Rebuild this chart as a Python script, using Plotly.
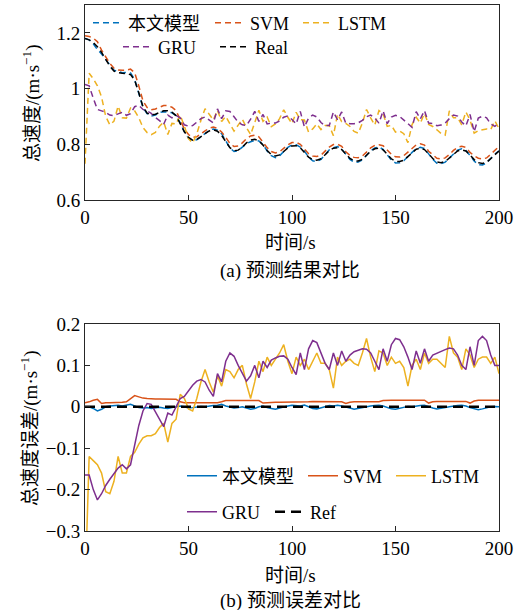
import plotly.graph_objects as go

# ---------------- data ----------------
time_s = list(range(0, 201, 2))

real_speed = [
    1.180, 1.175, 1.165, 1.150, 1.130, 1.105, 1.080, 1.063, 1.057, 1.055,
    1.054, 1.050, 1.030, 0.985, 0.935, 0.912, 0.905, 0.908, 0.915, 0.920,
    0.920, 0.915, 0.903, 0.875, 0.845, 0.825, 0.815, 0.817, 0.826, 0.838,
    0.848, 0.852, 0.847, 0.832, 0.810, 0.788, 0.777, 0.779, 0.790, 0.805,
    0.815, 0.818, 0.812, 0.797, 0.778, 0.763, 0.758, 0.762, 0.774, 0.787,
    0.794, 0.795, 0.788, 0.772, 0.754, 0.745, 0.743, 0.748, 0.762, 0.777,
    0.786, 0.788, 0.781, 0.765, 0.749, 0.741, 0.740, 0.746, 0.760, 0.775,
    0.784, 0.786, 0.780, 0.764, 0.748, 0.739, 0.738, 0.743, 0.756, 0.771,
    0.782, 0.786, 0.781, 0.766, 0.749, 0.737, 0.734, 0.738, 0.750, 0.765,
    0.776, 0.780, 0.776, 0.762, 0.745, 0.734, 0.731, 0.735, 0.748, 0.764,
    0.776]

err_model = [
    0.000, 0.000, -0.004, -0.010, -0.006, 0.000, 0.002, 0.003, 0.004, 0.002,
    0.004, 0.006, 0.002, -0.002, -0.003, -0.002, -0.004, -0.003, -0.001, -0.003,
    -0.004, -0.002, 0.000, 0.002, 0.000, -0.003, -0.002, -0.001, 0.001, 0.000,
    0.002, 0.003, 0.004, 0.006, 0.002, -0.001, -0.003, -0.002, 0.000, -0.003,
    -0.006, -0.004, 0.000, 0.002, -0.002, -0.004, -0.006, -0.003, 0.000, 0.002,
    0.004, 0.003, 0.002, 0.004, 0.000, -0.004, -0.005, -0.002, 0.001, 0.003,
    0.002, 0.004, 0.002, 0.000, -0.003, -0.006, -0.004, -0.002, 0.001, 0.002,
    0.003, 0.004, 0.002, -0.002, -0.005, -0.006, -0.004, -0.002, 0.001, 0.000,
    0.002, 0.003, 0.004, 0.000, -0.003, -0.005, -0.004, -0.002, 0.000, 0.002,
    0.003, 0.004, 0.002, -0.002, -0.005, -0.007, -0.005, -0.002, 0.000, 0.001,
    0.000]

err_svm = [
    0.010, 0.012, 0.016, 0.018, 0.008, 0.010, 0.010, 0.010, 0.010, 0.011,
    0.012, 0.020, 0.027, 0.024, 0.021, 0.020, 0.019, 0.019, 0.019, 0.019,
    0.019, 0.018, 0.018, 0.012, 0.010, 0.010, 0.010, 0.010, 0.010, 0.010,
    0.010, 0.010, 0.010, 0.012, 0.015, 0.015, 0.015, 0.015, 0.015, 0.015,
    0.015, 0.015, 0.015, 0.009, 0.010, 0.011, 0.011, 0.011, 0.011, 0.011,
    0.012, 0.012, 0.012, 0.012, 0.012, 0.013, 0.013, 0.013, 0.013, 0.013,
    0.013, 0.012, 0.012, 0.008, 0.011, 0.012, 0.012, 0.012, 0.012, 0.012,
    0.012, 0.012, 0.015, 0.016, 0.016, 0.016, 0.016, 0.016, 0.016, 0.016,
    0.016, 0.016, 0.016, 0.009, 0.012, 0.013, 0.013, 0.013, 0.013, 0.013,
    0.013, 0.013, 0.013, 0.009, 0.014, 0.016, 0.016, 0.016, 0.016, 0.016,
    0.016]

err_lstm = [
    -0.450, -0.120, -0.130, -0.140, -0.160, -0.205, -0.210, -0.180, -0.120, -0.160,
    -0.160, -0.120, -0.110, -0.090, -0.075, -0.070, -0.070, -0.065, -0.050, -0.040,
    -0.085, -0.040, -0.030, 0.030, 0.020, -0.005, -0.010, 0.020, 0.060, 0.090,
    0.060, 0.035, 0.075, 0.050, 0.090, 0.085, 0.070, 0.090, 0.100, 0.055,
    0.020, 0.060, 0.110, 0.085, 0.120, 0.100, 0.115, 0.130, 0.150, 0.110,
    0.080, 0.120, 0.100, 0.115, 0.090, 0.110, 0.130, 0.105, 0.105, 0.090,
    0.045, 0.120, 0.100, 0.110, 0.115, 0.105, 0.100, 0.130, 0.165, 0.120,
    0.085, 0.135, 0.130, 0.100, 0.120, 0.105, 0.110, 0.095, 0.050, 0.100,
    0.115, 0.090, 0.130, 0.105, 0.115, 0.115, 0.105, 0.095, 0.170, 0.130,
    0.120, 0.090, 0.140, 0.125, 0.095, 0.115, 0.120, 0.120, 0.105, 0.120,
    0.080]

err_gru = [
    -0.165, -0.165, -0.200, -0.225, -0.210, -0.190, -0.175, -0.160, -0.148, -0.140,
    -0.150, -0.140, -0.095, -0.045, -0.010, 0.008, 0.006, -0.012, -0.030, -0.048,
    -0.015, -0.020, 0.000, 0.020, 0.025, 0.040, 0.052, 0.062, 0.066, 0.060,
    0.040, 0.025, 0.080, 0.060, 0.110, 0.130, 0.122, 0.100, 0.080, 0.062,
    0.075, 0.100, 0.070, 0.110, 0.095, 0.113, 0.118, 0.122, 0.123, 0.115,
    0.095, 0.078, 0.130, 0.090, 0.140, 0.160, 0.155, 0.130, 0.105, 0.090,
    0.130, 0.100, 0.135, 0.110, 0.125, 0.133, 0.137, 0.140, 0.139, 0.130,
    0.110, 0.090, 0.140, 0.110, 0.150, 0.165, 0.162, 0.145, 0.120, 0.090,
    0.135, 0.105, 0.140, 0.110, 0.125, 0.130, 0.135, 0.138, 0.142, 0.140,
    0.125, 0.100, 0.090, 0.145, 0.100, 0.160, 0.170, 0.160, 0.125, 0.100,
    0.100]

ref_zero = [0.0] * len(time_s)

names_top = ["本文模型", "SVM", "LSTM", "GRU", "Real"]
names_bot = ["本文模型", "SVM", "LSTM", "GRU", "Ref"]
colors = ["#0072BD", "#D95319", "#EDB120", "#7E2F8E", "#000000"]

x_ticks = [0, 50, 100, 150, 200]
y_ticks_top = [0.6, 0.8, 1.0, 1.2]
y_ticks_bot = [-0.3, -0.2, -0.1, 0.0, 0.1, 0.2]

# predictions = real + error
errors = [err_model, err_svm, err_lstm, err_gru]
preds = [[r + e for r, e in zip(real_speed, err)] for err in errors]

W, H = 529, 610
FONT = "Liberation Serif, Noto Sans CJK SC"
AX = "#262626"

fig = go.Figure()

# one legend per entry (placement in pixels: left x, centre y)
top_leg_pos = [(88, 23), (210, 23), (298, 23), (118, 47), (215, 47)]
bot_leg_pos = [(182, 476), (303, 476), (391, 476), (182, 512), (270, 512)]

leg_common = dict(orientation="h", bgcolor="rgba(0,0,0,0)", borderwidth=0,
                  font=dict(family=FONT, size=18, color="#000"),
                  xanchor="left", yanchor="middle", itemclick=False)
legend_layout = {}
top_leg_ids, bot_leg_ids = [], []
for k, (px, py) in enumerate(top_leg_pos + bot_leg_pos):
    lid = "legend" if k == 0 else f"legend{k + 1}"
    legend_layout[lid] = dict(x=px / W, y=1 - py / H, **leg_common)
    (top_leg_ids if k < 5 else bot_leg_ids).append(lid)

top_series = preds + [real_speed]
for i in range(5):
    fig.add_trace(go.Scatter(
        x=time_s, y=top_series[i], mode="lines", name=names_top[i],
        line=dict(color=colors[i], width=1.5, dash="6px,4px"), showlegend=True,
        xaxis="x", yaxis="y", legend=top_leg_ids[i]))

bot_series = errors + [ref_zero]
for i in range(5):
    if i == 4:
        ln = dict(color=colors[i], width=2.5, dash="10px,6px")
    else:
        ln = dict(color=colors[i], width=1.5)
    fig.add_trace(go.Scatter(
        x=time_s, y=bot_series[i], mode="lines", name=names_bot[i],
        line=ln, showlegend=True, xaxis="x2", yaxis="y2", legend=bot_leg_ids[i]))

xd = [85 / W, 499 / W]
axis_common = dict(showline=True, mirror=True, linecolor=AX, linewidth=1,
                   ticks="inside", ticklen=5, tickcolor=AX, showgrid=False,
                   zeroline=False, tickfont=dict(family=FONT, size=19, color="#000"))

fig.update_layout(
    width=W, height=H, margin=dict(l=0, r=0, t=0, b=0, autoexpand=False),
    paper_bgcolor="white", plot_bgcolor="white", showlegend=True,
    font=dict(family=FONT, size=19, color="#000"),
    xaxis=dict(domain=xd, range=[0, 200], tickvals=x_ticks, anchor="y", **axis_common),
    yaxis=dict(domain=[1 - 200 / H, 1 - 5 / H], range=[0.6, 1.3], tickvals=y_ticks_top,
               anchor="x", **axis_common),
    xaxis2=dict(domain=xd, range=[0, 200], tickvals=x_ticks, anchor="y2", **axis_common),
    yaxis2=dict(domain=[1 - 531 / H, 1 - 324 / H], range=[-0.3, 0.2], tickvals=y_ticks_bot,
                anchor="x2", **axis_common),
    **legend_layout,
)

def ann(text, x, y, angle=0):
    fig.add_annotation(text=text, x=x / W, y=1 - y / H, xref="paper", yref="paper",
                       showarrow=False, textangle=angle, xanchor="center", yanchor="middle",
                       font=dict(family=FONT, size=19, color="#000"))

ann("时间/s", 290, 243)
ann("(a) 预测结果对比", 290, 271)
ann("时间/s", 290, 575)
ann("(b) 预测误差对比", 290, 601)
ann("总速度/(m·s<sup>−1</sup>)", 31, 103, -90)
ann("总速度误差/(m·s<sup>−1</sup>)", 29, 428, -90)

fig.write_html("out.html", config={"displayModeBar": False},
               post_script="document.body.style.margin='0';document.body.style.overflow='hidden';")
